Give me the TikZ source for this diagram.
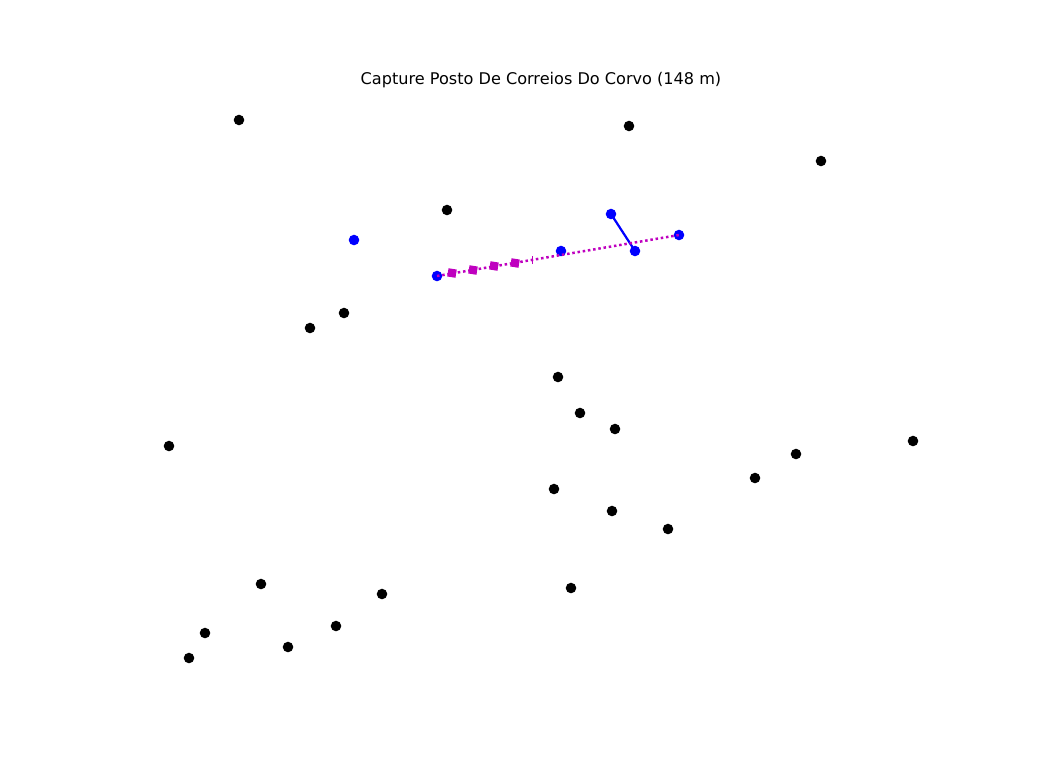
\documentclass[tikz,border=0pt]{standalone}
\usepackage{fontspec}
\setmainfont{DejaVu Sans}
\definecolor{mpm}{RGB}{191,0,191}
\begin{document}
\begin{tikzpicture}[x=0.72pt,y=-0.72pt,
  dot/.style={circle,fill=black,inner sep=0pt,minimum size=7.6pt},
  bdot/.style={circle,fill=blue,inner sep=0pt,minimum size=7.6pt},
  sq/.style={rectangle,fill=mpm,inner sep=0pt,minimum size=6pt},
  mline/.style={draw=mpm,line width=1.8pt,dotted},
  bline/.style={draw=blue,line width=1.6pt}]
\useasboundingbox (0,0) rectangle (1056,768);
\begin{scope}[yshift=-0.72pt]
\node[font=\fontsize{11.6}{14}\selectfont] (title) at (541,79) {Capture Posto De Correios Do Corvo (148 m)};
\foreach \x/\y [count=\i] in {239/119,629/125,821/160,447/209,344/312,310/327,558/376,580/412,615/428,169/445,913/440,796/453,755/477,554/488,612/510,668/528,261/583,382/593,571/587,336/625,205/632,288/646,189/657}
  \node[dot] (k\i) at (\x,\y) {};
\node[bdot] (b1) at (354,239) {};
\node[bdot] (b2) at (437,275) {};
\node[bdot] (b3) at (561,250) {};
\node[bdot] (b4) at (611,213) {};
\node[bdot] (b5) at (635,250) {};
\node[bdot] (b6) at (679,234) {};
\draw[bline] (b4.center) -- (b5.center);
\draw[mline] (b2.center) -- (b6.center);
\foreach \x/\y [count=\i] in {452/272,473/269,494/265,515/262}
  \node[sq,rotate=-9] (s\i) at (\x,\y) {};
\draw[draw=mpm,line width=0.6pt] (532,255) coordinate (t1) -- (532,263) coordinate (t2);
\end{scope}
\end{tikzpicture}
\end{document}
